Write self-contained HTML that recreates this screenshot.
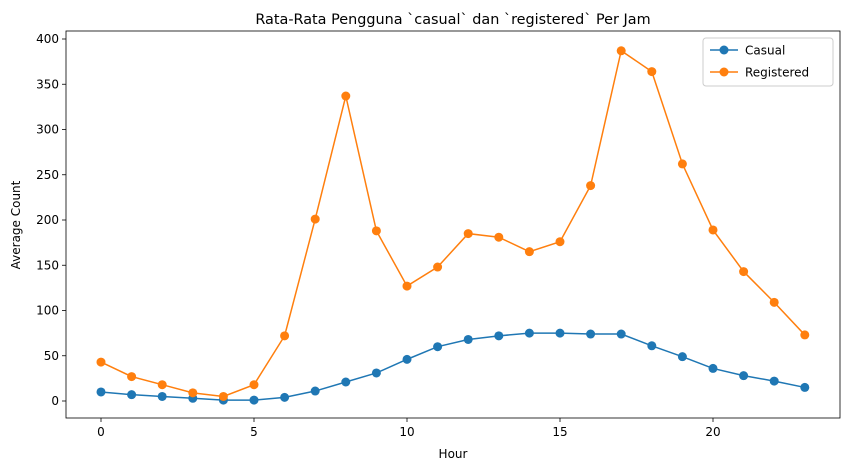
<!DOCTYPE html>
<html><head><meta charset="utf-8"><style>
body{margin:0;background:#fff;font-family:"Liberation Sans","DejaVu Sans",sans-serif}
svg text{font-family:"DejaVu Sans","Liberation Sans",sans-serif}
</style></head><body>
<svg id="c" width="850" height="471" xmlns="http://www.w3.org/2000/svg"></svg>
<script>
const hours=[0,1,2,3,4,5,6,7,8,9,10,11,12,13,14,15,16,17,18,19,20,21,22,23];
const casual=[10,7,5,3,1,1,4,11,21,31,46,60,68,72,75,75,74,74,61,49,36,28,22,15];
const registered=[43,27,18,9,5,18,72,201,337,188,127,148,185,181,165,176,238,387,364,262,189,143,109,73];
const xTicks=[0,5,10,15,20];
const yTicks=[0,50,100,150,200,250,300,350,400];
const L=66,R=840,T=31,B=418;
const x=v=>101+v*30.6;
const y=v=>401-v*0.905;
const svg=document.getElementById('c');
const NS='http://www.w3.org/2000/svg';
function mk(t,a,txt){const e=document.createElementNS(NS,t);for(const k in a)e.setAttribute(k,a[k]);if(txt!==undefined)e.textContent=txt;svg.appendChild(e);return e;}
let e=mk('rect',{x:L,y:T,width:R-L,height:B-T,fill:'none',stroke:'#000','stroke-width':0.8});

xTicks.forEach(v=>{mk('line',{x1:x(v),x2:x(v),y1:B,y2:B+4,stroke:'#000','stroke-width':0.8});
e=mk('text',{x:x(v),y:B+18,'font-size':12,'text-anchor':'middle'},v);});
yTicks.forEach(v=>{mk('line',{x1:L-4,x2:L,y1:y(v),y2:y(v),stroke:'#000','stroke-width':0.8});
e=mk('text',{x:L-7,y:y(v)+4,'font-size':12,'text-anchor':'end'},v);});
e=mk('text',{x:453,y:458,'font-size':12,'text-anchor':'middle'},'Hour');
e=mk('text',{x:20,y:225,'font-size':12,'text-anchor':'middle',transform:'rotate(-90 20 225)'},'Average Count');
e=mk('text',{x:453,y:24,'font-size':14.4,'text-anchor':'middle'},'Rata-Rata Pengguna `casual` dan `registered` Per Jam');
function series(d,c,n){e=mk('polyline',{points:d.map((v,i)=>x(hours[i])+','+y(v)).join(' '),fill:'none',stroke:c,'stroke-width':1.5});

d.forEach((v,i)=>{e=mk('circle',{cx:x(hours[i]),cy:y(v),r:4.5,fill:c});});}
series(casual,'#1f77b4','casual');series(registered,'#ff7f0e','registered');
e=mk('rect',{x:703,y:38,width:130,height:48,fill:'#fff',stroke:'#ccc',rx:3});
[['Casual','#1f77b4',50],['Registered','#ff7f0e',72]].forEach(([t,c,yy])=>{
mk('line',{x1:710,x2:738,y1:yy,y2:yy,stroke:c,'stroke-width':1.5});mk('circle',{cx:724,cy:yy,r:4.5,fill:c});
e=mk('text',{x:745,y:yy+4.5,'font-size':12},t);});
</script>
</body></html>
